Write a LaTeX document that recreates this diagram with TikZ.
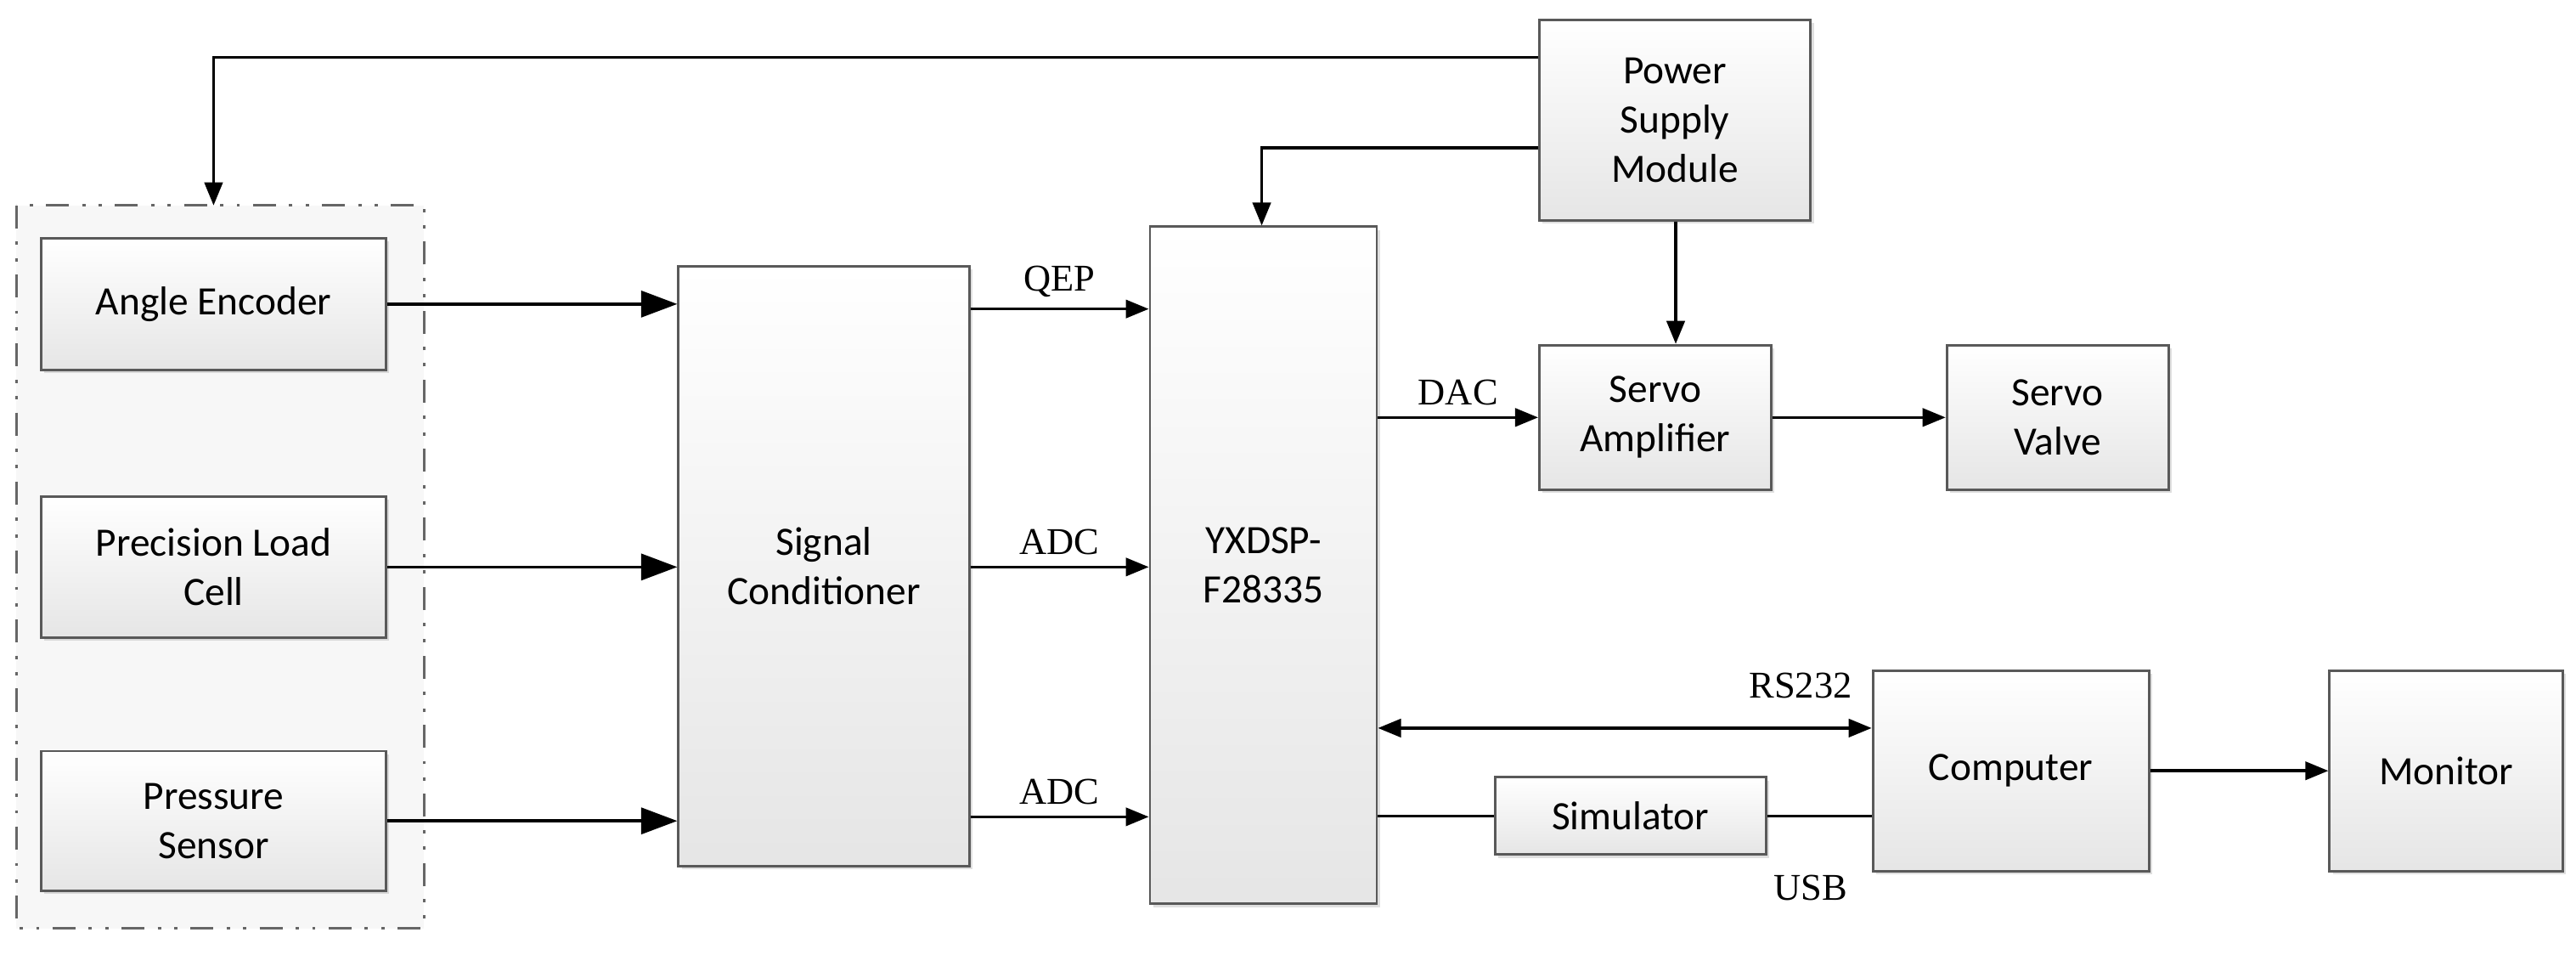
\documentclass[tikz,border=0pt]{standalone}
\usepackage{fontspec}
\setmainfont{Carlito}
\newfontfamily\lab{Liberation Serif}
\usetikzlibrary{arrows.meta,shadows}
\begin{document}
\begin{tikzpicture}[x=1pt,y=-1pt,
 box/.style={draw=black!65,line width=1.5pt,top color=white,bottom color=black!10,
   drop shadow={opacity=0.25,shadow xshift=2pt,shadow yshift=-2pt},
   align=center,font=\fontsize{24.5}{30}\selectfont,inner sep=0pt},
 ar/.style={line width=1.8pt,-{Triangle[length=22pt,width=16pt]}},
 ar2/.style={line width=1.8pt,-{Triangle[length=14pt,width=11pt]}},
 ln/.style={line width=1.8pt},
 lb/.style={font=\lab\fontsize{23}{27}\selectfont}]
\useasboundingbox (0,0) rectangle (1568,581);
\newcommand\bx[6]{\node[box,minimum width={#4-#2},minimum height={#5-#3}] (#1) at ({(#2+#4)/2},{(#3+#5)/2}) {#6};}
% group
\fill[black!3] (10,125) rectangle (258,565);
\draw[black!60,line width=1.5pt,dash pattern=on 14pt off 8pt on 2pt off 8pt on 2pt off 8pt] (10,125) rectangle (258,565);
\bx{ae}{25}{145}{235}{225}{Angle Encoder}
\bx{plc}{25}{302}{235}{388}{Precision Load\\Cell}
\bx{ps}{25}{457}{235}{542}{Pressure\\Sensor}
\bx{sc}{413}{162}{590}{527}{Signal\\Conditioner}
\bx{dsp}{700}{138}{838}{550}{YXDSP-\\F28335}
\bx{pw}{937}{12}{1102}{134}{Power\\Supply\\Module}
\bx{amp}{937}{210}{1078}{298}{Servo\\Amplifier}
\bx{valve}{1185}{210}{1320}{298}{Servo\\Valve}
\bx{comp}{1140}{408}{1308}{530}{Computer}
\bx{mon}{1418}{408}{1560}{530}{Monitor}
\bx{sim}{910}{473}{1075}{520}{Simulator}
\coordinate (grp) at (130,125);
% inputs
\draw[ar] (ae.east) -- (sc.west |- ae.east);
\draw[ar] (plc.east) -- (sc.west |- plc.east);
\draw[ar] (ps.east) -- (sc.west |- ps.east);
\draw[ar2] (sc.east |- 0,188) -- (dsp.west |- 0,188) node[lb,midway,above=3pt] {QEP};
\draw[ar2] (sc.east |- 0,345) -- (dsp.west |- 0,345) node[lb,midway,above=3pt] {ADC};
\draw[ar2] (sc.east |- 0,497) -- (dsp.west |- 0,497) node[lb,midway,above=3pt] {ADC};
\draw[ar2] (dsp.east |- amp.west) -- (amp.west) node[lb,midway,above=3pt] {DAC};
\draw[ar2] (amp.east) -- (valve.west);
\draw[ar2] (pw.south -| 1020,0) -- (amp.north -| 1020,0);
\draw[ar2] (pw.west |- 0,90) -| (dsp.north -| 768,0);
\draw[ar2] (pw.west |- 0,35) -| (grp);
\draw[line width=1.8pt,{Triangle[length=14pt,width=11pt]}-{Triangle[length=14pt,width=11pt]}] (dsp.east |- 0,443) -- (comp.west |- 0,443);
\node[lb] (rs) at (1096,417) {RS232};
\draw[ln] (dsp.east |- sim.west) -- (sim.west);
\draw[ln] (sim.east) -- (comp.west |- sim.east);
\node[lb] (usb) at (1102,540) {USB};
\draw[ar2] (comp.east) -- (mon.west);
\end{tikzpicture}
\end{document}
